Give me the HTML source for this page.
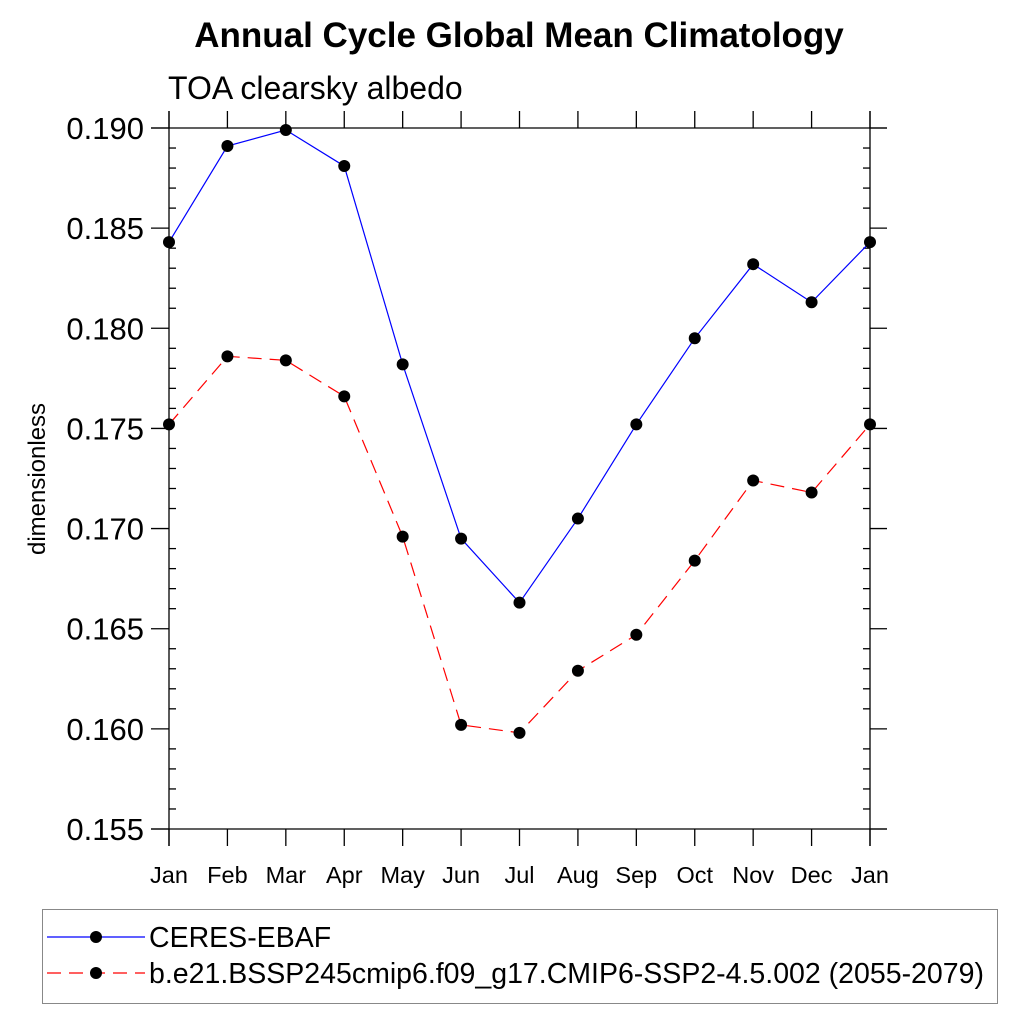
<!DOCTYPE html>
<html><head><meta charset="utf-8"><style>body{margin:0;background:#fff}svg{display:block;font-family:"Liberation Sans",sans-serif}</style></head>
<body>
<svg id="c" width="1024" height="1024" xmlns="http://www.w3.org/2000/svg">
<text x="519" y="47" text-anchor="middle" font-size="35" font-weight="bold">Annual Cycle Global Mean Climatology</text>
<text x="168" y="99" font-size="32">TOA clearsky albedo</text>
<text transform="translate(45,479) rotate(-90)" text-anchor="middle" font-size="24">dimensionless</text>
<g id="axes"></g><g id="series"></g>
<rect x="42.5" y="909.5" width="955" height="94" fill="none" stroke="#888"/>
<g><line x1="47" y1="937" x2="145" y2="937" stroke="#00f" stroke-width="1.2"/><circle cx="96" cy="937" r="6" fill="#000"/><text x="149" y="947" font-size="28.5">CERES-EBAF</text></g>
<g><line x1="47" y1="973" x2="145" y2="973" stroke="#f00" stroke-width="1.2" stroke-dasharray="14,8"/><circle cx="96" cy="973" r="6" fill="#000"/><text x="149" y="983" font-size="28.5">b.e21.BSSP245cmip6.f09_g17.CMIP6-SSP2-4.5.002 (2055-2079)</text></g>
</svg>
<script>
const months=["Jan","Feb","Mar","Apr","May","Jun","Jul","Aug","Sep","Oct","Nov","Dec","Jan"];
const ceres=[0.1843,0.1891,0.1899,0.1881,0.1782,0.1695,0.1663,0.1705,0.1752,0.1795,0.1832,0.1813,0.1843];
const model=[0.1752,0.1786,0.1784,0.1766,0.1696,0.1602,0.1598,0.1629,0.1647,0.1684,0.1724,0.1718,0.1752];
const yTicks=["0.155","0.160","0.165","0.170","0.175","0.180","0.185","0.190"];
const NS="http://www.w3.org/2000/svg";
const X0=169,X1=870,Y0=829,Y1=128,ymin=0.155,ymax=0.190;
const xs=i=>X0+(X1-X0)*i/(months.length-1);
const ys=v=>Y0-(v-ymin)/(ymax-ymin)*(Y0-Y1);
function mk(p,t,a){const e=document.createElementNS(NS,t);for(const k in a)e.setAttribute(k,a[k]);p.appendChild(e);return e;}
const ax=document.getElementById('axes');
const L=(x1,y1,x2,y2)=>mk(ax,'line',{x1,y1,x2,y2,stroke:'#000','stroke-width':1.3});
L(151,Y1,887,Y1);L(151,Y0,887,Y0);L(X0,111,X0,846);L(X1,111,X1,846);
months.forEach((m,i)=>{const x=xs(i);L(x,Y0,x,846);L(x,Y1,x,111);
const t=mk(ax,'text',{x:x,y:883,'text-anchor':'middle','font-size':23.5});t.textContent=m;

});
for(let k=0;k<=35;k++){const y=ys(ymin+k*0.001);if(k%5){L(X0,y,X0+7,y);L(X1,y,X1-7,y);}}
yTicks.forEach(s=>{const y=ys(parseFloat(s));L(151,y,X0,y);L(X1,y,887,y);
const t=mk(ax,'text',{x:144,y:y+11,'text-anchor':'end','font-size':31});t.textContent=s;

});
const sg=document.getElementById('series');
function draw(d,col,dash,name){const g=mk(sg,'g',{});


mk(g,'polyline',{points:d.map((v,i)=>xs(i)+','+ys(v)).join(' '),fill:'none',stroke:col,'stroke-width':1.2,'stroke-dasharray':dash});
d.forEach((v,i)=>{const c=mk(g,'circle',{cx:xs(i),cy:ys(v),r:6,fill:'#000'});

});}
draw(ceres,'#00f','none','series-ceres');
draw(model,'#f00','14,8','series-model');
</script>
</body></html>
